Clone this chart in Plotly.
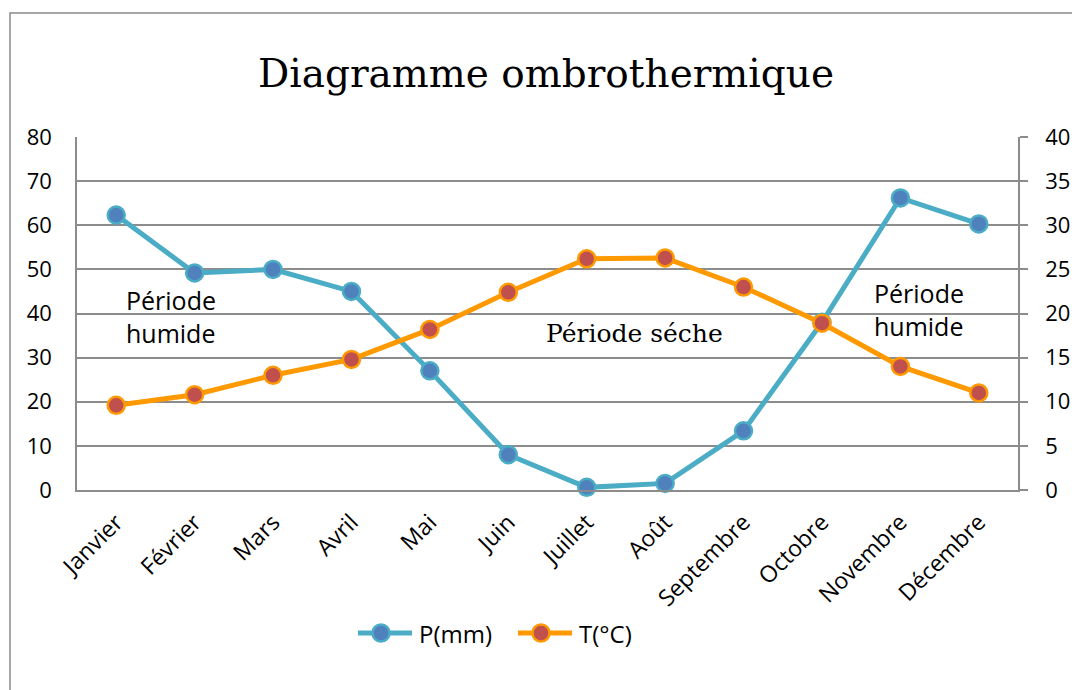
import plotly.graph_objects as go

months = ["Janvier", "Février", "Mars", "Avril", "Mai", "Juin", "Juillet",
          "Août", "Septembre", "Octobre", "Novembre", "Décembre"]
precip_mm = [62.3, 49.2, 50.0, 45.0, 27.0, 8.0, 0.6, 1.5, 13.4, 38.0, 66.2, 60.3]
temp_c = [9.6, 10.8, 13.0, 14.8, 18.2, 22.4, 26.2, 26.3, 23.0, 18.9, 14.0, 11.0]

left_ticks = [0, 10, 20, 30, 40, 50, 60, 70, 80]
right_ticks = [0, 5, 10, 15, 20, 25, 30, 35, 40]

series_names = ["P(mm)", "T(°C)"]
line_colors = ["#4BACC6", "#FF9900"]
marker_colors = ["#4F81BD", "#C0504D"]

GRID = "#8c8c8c"
SANS = "Open Sans, Liberation Sans, sans-serif"
SERIF = "DejaVu Serif, Liberation Serif, serif"

# The page margin is removed (see post_script), so figure pixels == page pixels.
W, H = 1072, 690
L, R, T, B = 77, 54, 137, 200
PW, PH = W - L - R, H - T - B


def px_x(x):  # page x -> paper fraction
    return (x - L) / PW


def px_y(y):  # page y -> paper fraction
    return (H - B - y) / PH


fig = go.Figure()
for name, ys, lc, mc, ax in zip(series_names, [precip_mm, temp_c], line_colors,
                                marker_colors, ["y", "y2"]):
    fig.add_trace(go.Scatter(
        x=months, y=ys, name=name, mode="lines+markers",
        line=dict(color=lc, width=5),
        marker=dict(size=17, color=mc, line=dict(color=lc, width=2.5)),
        yaxis=ax, cliponaxis=False, showlegend=False,
    ))

fig.update_layout(
    width=W, height=H,
    margin=dict(l=L, r=R, t=T, b=B, autoexpand=False),
    paper_bgcolor="white", plot_bgcolor="white",
    title=dict(text="Diagramme ombrothermique", x=546 / W, xanchor="center",
               y=1 - 73 / H, yanchor="middle", automargin=False,
               font=dict(family=SERIF, size=39, color="black")),
    font=dict(family=SANS, size=22, color="black"),
    showlegend=False,
    xaxis=dict(type="category", tickangle=-45, showgrid=False, automargin=False,
               showline=True, linecolor=GRID, linewidth=1.5, ticks="",
               range=[-0.5, 11.5], tickfont=dict(family=SANS, size=23),
               ticklabelstandoff=8),
    yaxis=dict(range=[0, 80], tickvals=left_ticks, showgrid=True, gridcolor=GRID,
               gridwidth=1.5, showline=True, linecolor=GRID, linewidth=1.5,
               automargin=False,
               ticks="", zeroline=False, tickfont=dict(family=SANS, size=22),
               ticklabelstandoff=19),
    yaxis2=dict(range=[0, 40], tickvals=right_ticks, overlaying="y", side="right",
                showgrid=False, showline=True, linecolor=GRID, linewidth=1.5,
                automargin=False,
                ticks="outside", ticklen=8, tickcolor=GRID, tickwidth=1.5,
                zeroline=False, tickfont=dict(family=SANS, size=22),
                ticklabelstandoff=13),
)

# outer chart frame
fig.add_shape(type="rect", xref="paper", yref="paper",
              x0=px_x(10), x1=px_x(1200), y0=px_y(800), y1=px_y(13),
              line=dict(color="#8a8a8a", width=1.5), layer="below")

# legend drawn by hand (line + marker + label) to match the original's layout
legend_x = [358, 518]
legend_y = px_y(633)
for name, lc, mc, lx in zip(series_names, line_colors, marker_colors, legend_x):
    fig.add_shape(type="line", xref="paper", yref="paper",
                  x0=px_x(lx), x1=px_x(lx + 54), y0=legend_y, y1=legend_y,
                  line=dict(color=lc, width=5))
    fig.add_shape(type="circle", xref="paper", yref="paper",
                  xsizemode="pixel", ysizemode="pixel",
                  xanchor=px_x(lx + 23), yanchor=legend_y,
                  x0=-8.5, x1=8.5, y0=-8.5, y1=8.5,
                  fillcolor=mc, line=dict(color=lc, width=2.5))
    fig.add_annotation(text=name, xref="paper", yref="paper",
                       x=px_x(lx + 59), y=legend_y, xanchor="left", yanchor="middle",
                       showarrow=False, font=dict(family=SANS, size=24, color="black"))

ann_font_sans = dict(family=SANS, size=25, color="black")
fig.add_annotation(text="Période<br>humide", xref="paper", yref="paper",
                   x=px_x(124), y=px_y(316), xanchor="left", yanchor="middle",
                   showarrow=False, align="left", font=ann_font_sans)
fig.add_annotation(text="Période<br>humide", xref="paper", yref="paper",
                   x=px_x(872), y=px_y(309), xanchor="left", yanchor="middle",
                   showarrow=False, align="left", font=ann_font_sans)
fig.add_annotation(text="Période séche", xref="paper", yref="paper",
                   x=px_x(634), y=px_y(333), xanchor="center", yanchor="middle",
                   showarrow=False, font=dict(family=SERIF, size=25, color="black"))

fig.write_html(
    "out.html",
    config={"displayModeBar": False},
    post_script="document.body.style.margin='0px';"
                "document.documentElement.style.overflow='hidden';"
                "document.body.style.overflow='hidden';",
)
